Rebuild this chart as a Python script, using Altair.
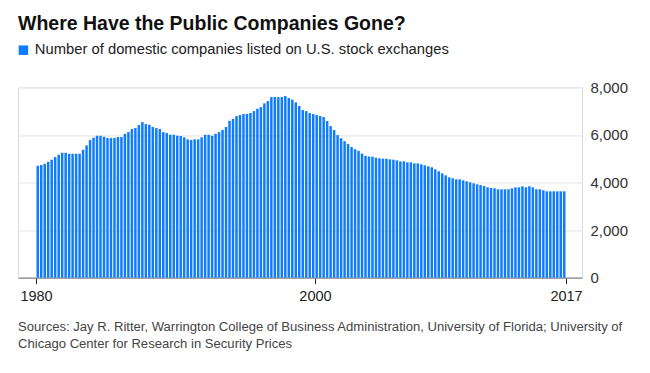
import altair as alt
import pandas as pd

TITLE = "Where Have the Public Companies Gone?"
SERIES = "Number of domestic companies listed on U.S. stock exchanges"
SOURCE_LINES = [
    "Sources: Jay R. Ritter, Warrington College of Business Administration, University of Florida; University of",
    "Chicago Center for Research in Security Prices",
]

years = list(range(1980, 2018))
quarters = ["Q1", "Q2", "Q3", "Q4"]

# number of listed domestic companies, quarterly
companies = [
    4704, 4733, 4788, 4872,  # 1980
    4956, 5069, 5166, 5250,  # 1981
    5250, 5208, 5208, 5208,  # 1982
    5208, 5376, 5560, 5783,  # 1983
    5880, 5964, 5964, 5922,  # 1984
    5867, 5867, 5867, 5909,  # 1985
    5909, 6048, 6119, 6245,  # 1986
    6287, 6413, 6539, 6455,  # 1987
    6427, 6329, 6287, 6245,  # 1988
    6119, 6077, 6006, 6006,  # 1989
    5964, 5951, 5897, 5813,  # 1990
    5783, 5813, 5813, 5897,  # 1991
    6006, 6006, 5964, 6048,  # 1992
    6119, 6210, 6330, 6590,  # 1993
    6670, 6790, 6833, 6875,  # 1994
    6880, 6917, 7001, 7100,  # 1995
    7169, 7325, 7421, 7589,  # 1996
    7589, 7589, 7589, 7631,  # 1997
    7547, 7480, 7367, 7211,  # 1998
    7043, 7001, 6917, 6875,  # 1999
    6833, 6791, 6749, 6581,  # 2000
    6371, 6203, 5993, 5860,  # 2001
    5735, 5615, 5489, 5400,  # 2002
    5330, 5215, 5120, 5090,  # 2003
    5082, 5040, 5015, 5000,  # 2004
    4998, 4973, 4960, 4929,  # 2005
    4887, 4887, 4845, 4845,  # 2006
    4803, 4803, 4763, 4721,  # 2007
    4679, 4637, 4553, 4469,  # 2008
    4385, 4301, 4217, 4175,  # 2009
    4133, 4133, 4091, 4049,  # 2010
    4007, 3965, 3923, 3893,  # 2011
    3851, 3797, 3767, 3755,  # 2012
    3713, 3713, 3713, 3713,  # 2013
    3755, 3797, 3797, 3839,  # 2014
    3797, 3839, 3797, 3713,  # 2015
    3713, 3671, 3629, 3629,  # 2016
    3629, 3629, 3629, 3629,  # 2017
]

tick_labels = ["1980", "2000", "2017"]
y_ticks = [0, 2000, 4000, 6000, 8000]

periods = [f"{y} {q}" for y in years for q in quarters]
df = pd.DataFrame({"period": periods, "companies": companies})
df["pos"] = [i + 0.5 for i in range(len(df))]
df["series"] = SERIES

# x tick positions: start of 1980, start of 2000, end of 2017
tick_pos = [periods.index("1980 Q1"), periods.index("2000 Q1"), len(periods)]
label_expr = " : ".join(
    f"datum.value == {p} ? '{t}'" for p, t in zip(tick_pos[:-1], tick_labels[:-1])
) + f" : '{tick_labels[-1]}'"

FONT = "Liberation Sans"
BLUE = "#0f7bff"

W, H = 564, 190.4
n = len(periods)
step = 530 / n
x_domain = [-18 / step, n + 16 / step]

bars = alt.Chart(df).mark_bar(width=2.5).encode(
    x=alt.X(
        "pos:Q",
        scale=alt.Scale(domain=x_domain, nice=False, zero=False, padding=0),
        axis=alt.Axis(
            values=tick_pos,
            labelExpr=label_expr,
            title=None,
            grid=False,
            domainColor="#8a8a8a",
            domainWidth=1.2,
            tickColor="#222222",
            tickSize=6,
            tickWidth=1,
            labelFont=FONT,
            labelFontSize=14.5,
            labelColor="#222222",
            labelPadding=6,
            labelFlush=False,
        ),
    ),
    y=alt.Y(
        "companies:Q",
        scale=alt.Scale(domain=[0, 8000], nice=False),
        axis=alt.Axis(
            orient="right",
            values=y_ticks,
            format=",.0f",
            title=None,
            domain=False,
            ticks=False,
            grid=True,
            gridColor="#e8e8e8",
            gridWidth=1.2,
            labelFont=FONT,
            labelFontSize=15,
            labelColor="#333333",
            labelAlign="left",
            labelBaseline="middle",
            labelPadding=8,
        ),
    ),
    color=alt.Color(
        "series:N",
        scale=alt.Scale(domain=[SERIES], range=[BLUE]),
        legend=alt.Legend(
            title=None,
            orient="none",
            legendX=-2,
            legendY=-44.5,
            symbolType="square",
            symbolSize=90,
            symbolStrokeWidth=0,
            labelFont=FONT,
            labelFontSize=14.8,
            labelColor="#222222",
            labelOffset=4,
            labelLimit=0,
            padding=0,
        ),
    ),
)

title = alt.Chart(pd.DataFrame({"k": [0]})).mark_text(
    text=TITLE,
    align="left",
    baseline="alphabetic",
    font=FONT,
    fontSize=19.5,
    fontWeight="bold",
    color="#111111",
).encode(x=alt.value(0), y=alt.value(-57.3))

source = alt.Chart(pd.DataFrame({"k": [0]})).mark_text(
    text=SOURCE_LINES,
    align="left",
    baseline="alphabetic",
    font=FONT,
    fontSize=13.1,
    color="#444444",
    lineHeight=17,
).encode(x=alt.value(0), y=alt.value(243.7))

chart = alt.layer(bars, title, source).properties(
    width=W,
    height=H,
    autosize="none",
    padding={"left": 10, "top": 79.3, "right": 60, "bottom": 87},
).configure_view(stroke=None).configure(background="white")

chart.save("out.html", embed_options={"renderer": "svg", "actions": False})
